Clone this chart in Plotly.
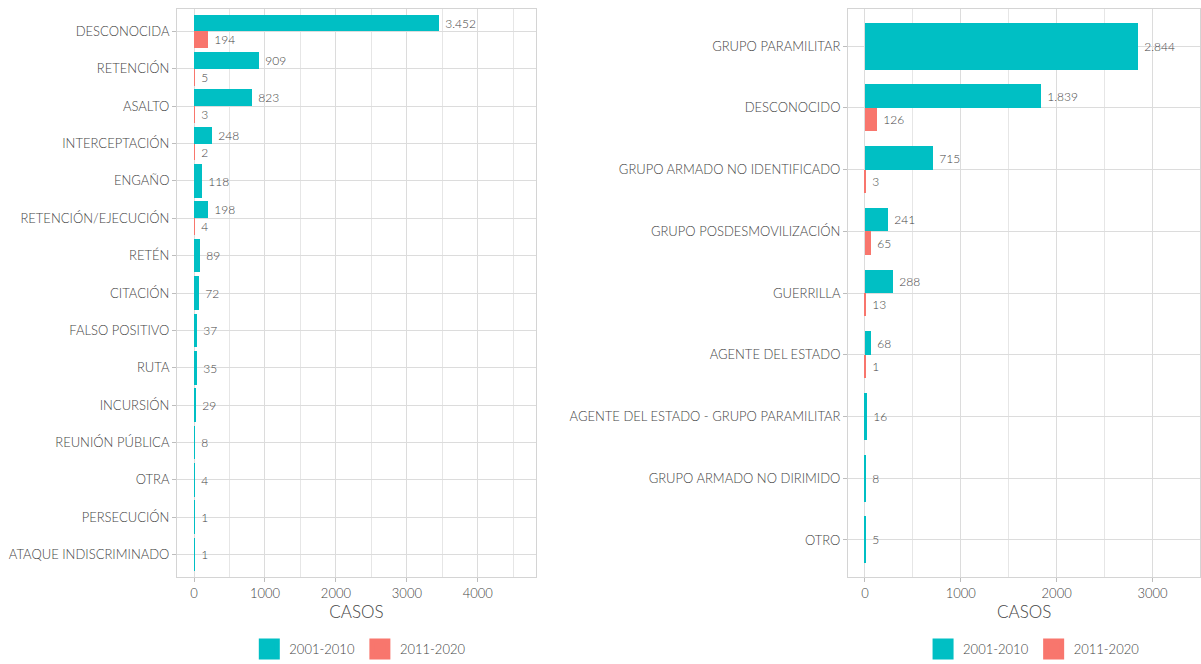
import plotly.graph_objects as go

# left panel: modalidad
mod_cats = ["DESCONOCIDA", "RETENCIÓN", "ASALTO", "INTERCEPTACIÓN", "ENGAÑO",
            "RETENCIÓN/EJECUCIÓN", "RETÉN", "CITACIÓN", "FALSO POSITIVO", "RUTA",
            "INCURSIÓN", "REUNIÓN PÚBLICA", "OTRA", "PERSECUCIÓN",
            "ATAQUE INDISCRIMINADO"]
mod_p1 = [3452, 909, 823, 248, 118, 198, 89, 72, 37, 35, 29, 8, 4, 1, 1]
mod_p2 = [194, 5, 3, 2, None, 4, None, None, None, None, None, None, None, None, None]

# right panel: presunto responsable
resp_cats = ["GRUPO PARAMILITAR", "DESCONOCIDO", "GRUPO ARMADO NO IDENTIFICADO",
             "GRUPO POSDESMOVILIZACIÓN", "GUERRILLA", "AGENTE DEL ESTADO",
             "AGENTE DEL ESTADO - GRUPO PARAMILITAR", "GRUPO ARMADO NO DIRIMIDO",
             "OTRO"]
resp_p1 = [2844, 1839, 715, 241, 288, 68, 16, 8, 5]
resp_p2 = [None, 126, 3, 65, 13, 1, None, None, None]

periods = ["2001-2010", "2011-2020"]
colors = ["#00BFC4", "#F8766D"]

FONT = "Lato"
GREY = "#444444"


def fnt(size):
    return dict(family=FONT, size=size, color=GREY, weight=300)


def dodge(cats, a, b, total):
    # ggplot-like dodge: single bars take the full slot
    n = len(cats)
    ya, wa, yb, wb = [], [], [], []
    for i in range(n):
        pos = n - 1 - i
        if b[i] is None:
            ya.append(pos); wa.append(total)
            yb.append(pos); wb.append(0)
        else:
            ya.append(pos + total / 4); wa.append(total / 2)
            yb.append(pos - total / 4); wb.append(total / 2)
    return ya, wa, yb, wb


fig = go.Figure()

panels = [
    (mod_cats, mod_p1, mod_p2, 0.9, "x", "y", "legend"),
    (resp_cats, resp_p1, resp_p2, 0.76, "x2", "y2", "legend2"),
]
for cats, p1, p2, tw, xa, ya_, leg in panels:
    y1, w1, y2, w2 = dodge(cats, p1, p2, tw)
    for vals, ys, ws, name, col in [(p1, y1, w1, periods[0], colors[0]),
                                    (p2, y2, w2, periods[1], colors[1])]:
        fig.add_trace(go.Bar(
            x=vals, y=ys, width=ws, orientation="h", name=name,
            marker=dict(color=col, line=dict(width=0)),
            text=[None if v is None else "\u00a0" + f"{v:,}".replace(",", ".") for v in vals],
            textposition="outside", cliponaxis=False, constraintext="none",
            textfont=fnt(12),
            xaxis=xa, yaxis=ya_, showlegend=False, hoverinfo="x+y",
        ))
    # legend keys (big ggplot-style squares)
    for name, col in zip(periods, colors):
        fig.add_trace(go.Scatter(
            x=[None], y=[None], mode="markers", name=name,
            marker=dict(symbol="square", size=16, color=col, line=dict(color=col, width=5)),
            xaxis=xa, yaxis=ya_, legend=leg, showlegend=True,
        ))

grid = "#dcdcdc"
axis_common = dict(showline=True, linecolor="#d4d4d4", mirror=True, linewidth=1,
                   showgrid=True, gridcolor=grid, gridwidth=1, zeroline=False,
                   ticks="outside", ticklen=4, tickcolor="#bdbdbd",
                   tickfont=fnt(13))
minor = dict(dtick=500, tick0=0, showgrid=True, gridcolor="#e6e6e6", gridwidth=1)

fig.update_layout(
    width=1201, height=664,
    margin=dict(l=0, r=0, t=0, b=0),
    plot_bgcolor="white", paper_bgcolor="white",
    barmode="overlay", bargap=0,
    separators=",.",
    font=fnt(13),
    xaxis=dict(domain=[0.1474, 0.4463], range=[-240, 4820], anchor="y",
               tickvals=[0, 1000, 2000, 3000, 4000], minor=minor,
               title=dict(text="CASOS", font=fnt(17), standoff=4),
               **axis_common),
    yaxis=dict(domain=[0.131, 0.9864], range=[-0.6, len(mod_cats) - 0.4], anchor="x",
               tickvals=list(range(len(mod_cats))), ticktext=mod_cats[::-1],
               **axis_common),
    xaxis2=dict(domain=[0.7061, 0.9995], range=[-177, 3500], anchor="y2",
                tickvals=[0, 1000, 2000, 3000], minor=minor,
                title=dict(text="CASOS", font=fnt(17), standoff=4),
                **axis_common),
    yaxis2=dict(domain=[0.131, 0.9864], range=[-0.6, len(resp_cats) - 0.4], anchor="x2",
                tickvals=list(range(len(resp_cats))), ticktext=resp_cats[::-1],
                **axis_common),
    legend=dict(orientation="h", x=0.3, y=0, xanchor="center", yanchor="bottom",
                font=fnt(13), itemsizing="trace", traceorder="normal"),
    legend2=dict(orientation="h", x=0.861, y=0, xanchor="center", yanchor="bottom",
                 font=fnt(13), itemsizing="trace", traceorder="normal"),
)

fig.write_html("out.html", config={"displayModeBar": False},
               post_script="document.body.style.margin='0';")
